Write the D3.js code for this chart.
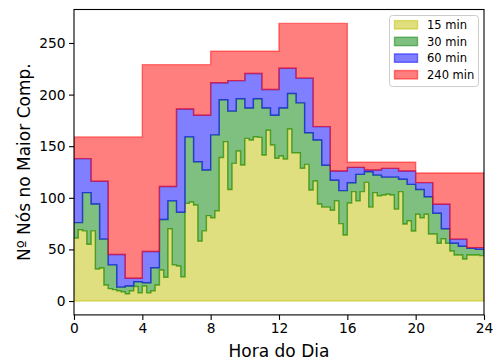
<!DOCTYPE html>
<html>
<head>
<meta charset="utf-8">
<script src="https://cdn.jsdelivr.net/npm/d3@7"></script>
<style>
  body { margin: 0; background: #fff; }
  svg { display: block; font-family: "DejaVu Sans", sans-serif; }
</style>
</head>
<body>
<div id="chart"></div>
<script>
// 15 min bins (96 values)
const s15 = [
  61, 69, 68, 55, 68, 31, 32, 15.5, 12, 11, 10, 9, 7, 10, 14, 8, 14.5, 8, 10, 15.5, 30, 23, 70, 35,
  34, 23.5, 94.6, 96, 93, 58, 68, 82.7, 80.7, 87.5, 139, 154.4, 108, 133.4, 145.3, 131.8, 157.6, 156, 159.2, 158.6, 141.5, 165.4, 151.2, 138.3,
  140.5, 137.6, 166.7, 143.7, 143.7, 128.6, 132.4, 107.6, 116.3, 94, 91, 91, 88, 97, 75, 64, 95, 106, 97, 106, 115, 91, 105, 102,
  102.7, 103.4, 102.7, 89, 106, 74.6, 77.8, 67.8, 84, 80.7, 84, 65, 65, 56, 60.4, 56, 48.4, 44.6, 44.6, 40.7, 44.6, 44.6, 44.6, 44
];
// 30 min bins (48 values)
const s30 = [
  76, 105, 94, 60, 35, 13.5, 14.5, 18.7, 17.7, 32.3, 79, 97,
  86, 159, 135, 127, 161, 195, 184, 196, 187, 196, 187, 180,
  187, 201, 192, 163, 156, 131.5, 117, 107, 114.6, 122.7, 125.3, 122,
  120, 120, 118, 113, 108, 101, 85, 70, 56, 53, 51, 50
];
// 60 min bins (24 values)
const s60 = [
  138, 116, 45, 22, 48, 111, 186, 180, 211.5, 213.5, 220.5, 205,
  225.5, 216, 169, 126, 129.5, 127, 128.5, 126, 114.7, 93.7, 60, 51.7
];
// 240 min bins (6 values)
const s240 = [159, 229, 242, 269, 134.5, 124];

const seriesNames = ["15 min", "30 min", "60 min", "240 min"];
const seriesColors = ["#bfbf00", "#008000", "#0000ff", "#ff0000"];
const xTicks = [0, 4, 8, 12, 16, 20, 24];
const yTicks = [0, 50, 100, 150, 200, 250];

const width = 494, height = 363;
const m = { left: 74, right: 484, top: 9.5, bottom: 314.9 };

const svg = d3.select("#chart").append("svg")
  .attr("width", width)
  .attr("height", height);

const x = d3.scaleLinear().domain([0, 24]).range([m.left, m.right]);
const y = d3.scaleLinear().domain([-13.45, 282.45]).range([m.bottom, m.top]);

// value of a series at quarter-hour index q
const series = [s15, s30, s60, s240];
const perBin = [1, 2, 4, 16];
function valueAt(k, q) {
  if (k < 0) return 0;
  const i = Math.min(q, 95);
  return series[k][Math.floor(i / perBin[k])];
}

const quarters = d3.range(97);

svg.append("clipPath").attr("id", "plot-clip")
  .append("rect")
  .attr("x", m.left).attr("y", m.top)
  .attr("width", m.right - m.left).attr("height", m.bottom - m.top);

const plot = svg.append("g").attr("clip-path", "url(#plot-clip)");

// bands stacked: 0->15, 15->30, 30->60, 60->240
series.forEach((s, k) => {
  const area = d3.area()
    .x(q => x(q / 4))
    .y0(q => y(valueAt(k - 1, q)))
    .y1(q => y(valueAt(k, q)))
    .curve(d3.curveStepAfter);

  plot.append("path")
    .datum(quarters)
    .attr("d", area)
    .attr("fill", seriesColors[k])
    .attr("fill-opacity", 0.5)
    .attr("stroke", seriesColors[k])
    .attr("stroke-opacity", 0.5)
    .attr("stroke-width", 1.4);
});

// axes
const xAxis = svg.append("g")
  .attr("transform", `translate(0,${m.bottom})`)
  .call(d3.axisBottom(x).tickValues(xTicks).tickSize(5).tickPadding(3.5));

const yAxis = svg.append("g")
  .attr("transform", `translate(${m.left},0)`)
  .call(d3.axisLeft(y).tickValues(yTicks).tickSize(5).tickPadding(3.5));

[xAxis, yAxis].forEach(g => {
  g.select(".domain").remove();
  g.selectAll("line").attr("stroke", "#000").attr("stroke-width", 1.1);
  g.selectAll("text")
    .attr("fill", "#000")
    .style("font-family", "DejaVu Sans")
    .style("font-size", "13.8px");
});

// spines
svg.append("rect")
  .attr("x", m.left).attr("y", m.top)
  .attr("width", m.right - m.left).attr("height", m.bottom - m.top)
  .attr("fill", "none")
  .attr("stroke", "#000")
  .attr("stroke-width", 1.1);

// axis labels
svg.append("text")
  .attr("x", (m.left + m.right) / 2)
  .attr("y", 357)
  .attr("text-anchor", "middle")
  .style("font-size", "17px")
  .text("Hora do Dia");

svg.append("text")
  .attr("transform", `translate(29.5,${(m.top + m.bottom) / 2}) rotate(-90)`)
  .attr("text-anchor", "middle")
  .style("font-size", "17px")
  .text("Nº Nós no Maior Comp.");

// legend
const legend = svg.append("g");
legend.append("rect")
  .attr("x", 389.5).attr("y", 15.5)
  .attr("width", 89).attr("height", 71)
  .attr("rx", 3)
  .attr("fill", "#fff")
  .attr("fill-opacity", 0.8)
  .attr("stroke", "#cccccc")
  .attr("stroke-width", 1);

seriesNames.forEach((name, i) => {
  const cy = 24.8 + i * 16.65;
  legend.append("rect")
    .attr("x", 394.5).attr("y", cy - 4.2)
    .attr("width", 23).attr("height", 8.4)
    .attr("fill", seriesColors[i])
    .attr("fill-opacity", 0.5)
    .attr("stroke", seriesColors[i])
    .attr("stroke-opacity", 0.5)
    .attr("stroke-width", 1.4);
  legend.append("text")
    .attr("x", 427)
    .attr("y", cy)
    .attr("dy", "0.36em")
    .style("font-size", "11.5px")
    .text(name);
});
</script>
</body>
</html>
